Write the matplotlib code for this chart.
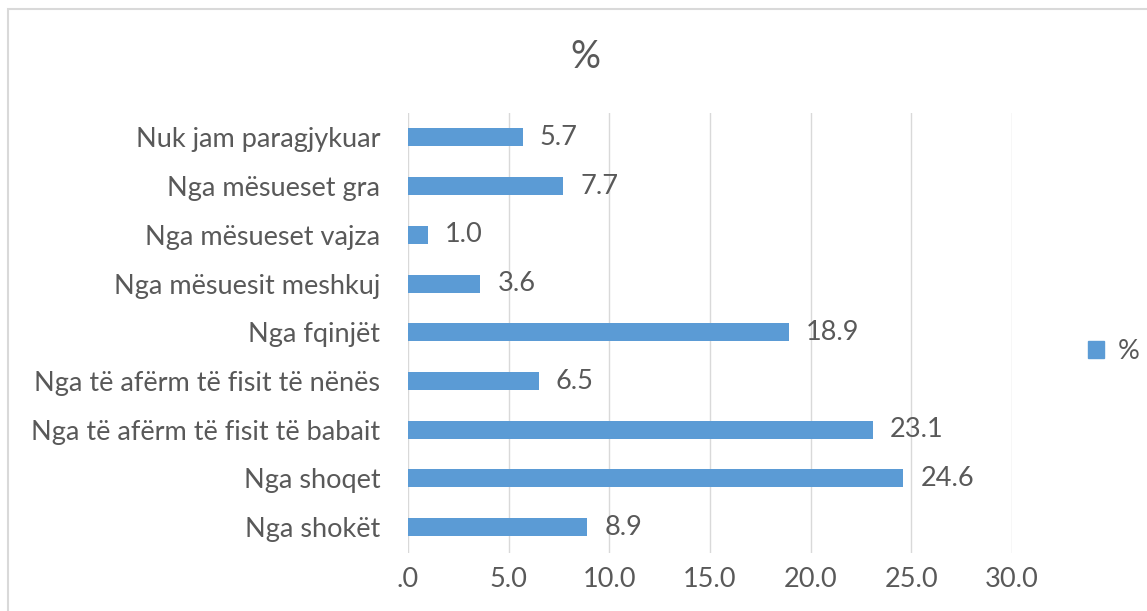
import matplotlib.pyplot as plt
import matplotlib.patches as mpatches

# Données (de bas en haut)
categories = [
    "Nga shokët",
    "Nga shoqet",
    "Nga të afërm të fisit të babait",
    "Nga të afërm të fisit të nënës",
    "Nga fqinjët",
    "Nga mësuesit meshkuj",
    "Nga mësueset vajza",
    "Nga mësueset gra",
    "Nuk jam paragjykuar",
]
values = [8.9, 24.6, 23.1, 6.5, 18.9, 3.6, 1.0, 7.7, 5.7]
xticks = [0, 5, 10, 15, 20, 25, 30]
xtick_labels = [".0", "5.0", "10.0", "15.0", "20.0", "25.0", "30.0"]
series_name = "%"

BLUE = "#5B9BD5"
TEXT = "#595959"
GRID = "#D9D9D9"
FS = 19.5

plt.rcParams['font.family'] = ['Lato', 'DejaVu Sans']

fig = plt.figure(figsize=(11.47, 6.11), dpi=100)
ax = fig.add_axes([0.3557, 0.0949, 0.8823 - 0.3557, 0.815 - 0.0949])

# Cadre du graphique (bordure grise)
border = mpatches.Rectangle((8 / 1147, -0.1), 1.2, 1 - 9 / 611 + 0.1,
                            transform=fig.transFigure, fill=False,
                            edgecolor=GRID, linewidth=1.5)
fig.patches.append(border)

y = range(len(categories))
ax.barh(y, values, height=0.37, color=BLUE, label=series_name, zorder=3)

for yi, v in zip(y, values):
    ax.text(v + 0.85, yi, f"{v:.1f}", va='center', ha='left',
            fontsize=FS, color=TEXT)

ax.set_xlim(0, 30)
ax.set_ylim(-0.53, 8.5)
ax.set_xticks(xticks)
ax.set_xticklabels(xtick_labels)
ax.set_yticks(list(y))
ax.set_yticklabels(categories)
ax.tick_params(axis='both', length=0, labelsize=FS, colors=TEXT)
ax.tick_params(axis='y', pad=20)
ax.tick_params(axis='x', pad=10)
ax.grid(axis='x', color=GRID, linewidth=1, zorder=0)
ax.set_axisbelow(True)
for s in ax.spines.values():
    s.set_visible(False)

fig.text(0.51, 0.907, "%", ha='center', va='center', fontsize=27, color=TEXT)

leg = fig.legend(handles=[mpatches.Patch(color=BLUE, label=series_name)],
                 loc='center left', bbox_to_anchor=(0.927, 0.425),
                 frameon=False, fontsize=FS, handlelength=0.6, handleheight=0.6,
                 handletextpad=0.5)
for t in leg.get_texts():
    t.set_color(TEXT)

fig.savefig("out.png", dpi=100)
